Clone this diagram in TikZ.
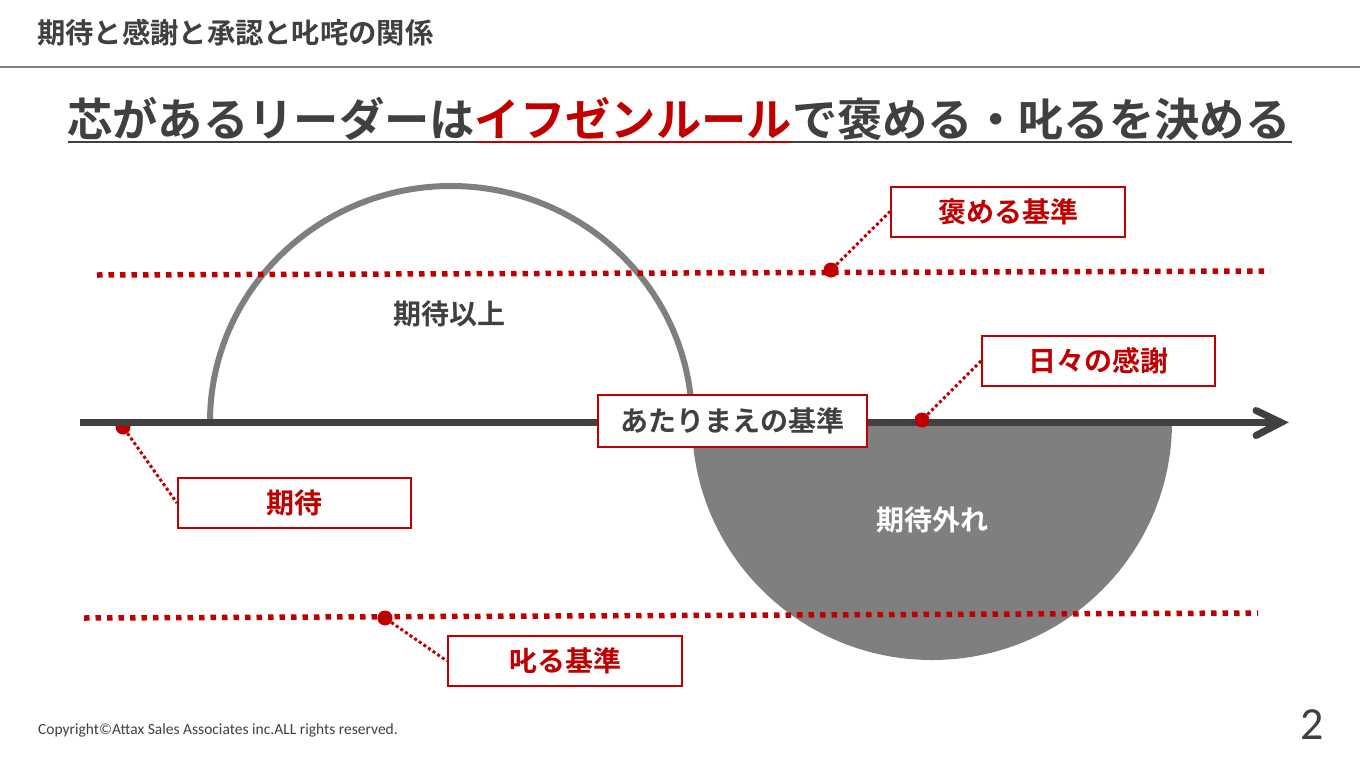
\documentclass[tikz,border=0pt]{standalone}
\usepackage{fontspec}
\newfontfamily\jpfont{Noto Sans CJK JP}[BoldFont={Noto Sans CJK JP Bold}]
\newfontfamily\carfont{Carlito}
\usetikzlibrary{calc}
\definecolor{ared}{HTML}{C00000}
\definecolor{adark}{HTML}{404040}
\definecolor{agray}{HTML}{7F7F7F}
\tikzset{
  lbl/.style={draw=ared, line width=2pt, fill=white, minimum width=234pt, minimum height=50pt,
    inner sep=0pt, font=\jpfont\bfseries\fontsize{28}{30}\selectfont, text=ared},
  leader/.style={draw=ared, line width=3pt, dash pattern=on 3pt off 2.6pt},
  rline/.style={draw=ared, line width=5.5pt, dash pattern=on 5.5pt off 6pt},
  rdot/.style={circle, fill=ared, minimum size=15pt, inner sep=0pt},
  axisline/.style={draw=adark, line width=7pt},
  plain/.style={font=\jpfont\bfseries\fontsize{28}{30}\selectfont, inner sep=0pt}
}
\begin{document}
\begin{tikzpicture}[x=1pt,y=-1pt]
\useasboundingbox (0,0) rectangle (1360,766);
\fill[white] (0,0) rectangle (1360,766);

% title and rule
\node[anchor=base west, inner sep=0pt, text=adark, font=\jpfont\bfseries\fontsize{28.3}{30}\selectfont] (title) at (37,43) {期待と感謝と承認と叱咤の関係};
\coordinate (ruleL) at (0,67);
\coordinate (ruleR) at (1360,67);
\draw[agray, line width=2pt] (ruleL) -- (ruleR);

% heading
\node[anchor=base west, inner sep=0pt, text=adark, font=\jpfont\bfseries\fontsize{45.3}{50}\selectfont] (head) at (67,136)
  {芯があるリーダーは\textcolor{ared}{イフゼンルール}で褒める・叱るを決める};
\coordinate (u1) at (68,142);
\coordinate (u2) at (478,142);
\coordinate (u3) at (790,142);
\coordinate (u4) at (1292,142);
\draw[adark, line width=2pt] (u1) -- (u2);
\draw[ared, line width=2.5pt] (u2) -- (u3);
\draw[adark, line width=2pt] (u3) -- (u4);

% lower filled half circle
\fill[agray] (692,422) arc[start angle=180, end angle=0, x radius=240, y radius=238] -- cycle;
% upper arc
\draw[agray, line width=6pt] (210,422) arc[start angle=180, end angle=360, x radius=241, y radius=236];

% red dotted criterion lines
\coordinate (tL) at (97,275);
\coordinate (tR) at (1270,271);
\coordinate (bL) at (84,618);
\coordinate (bR) at (1258,613);
\draw[rline] (tL) -- (tR);
\draw[rline] (bL) -- (bR);

% dot under axis
\node[rdot] (d3) at (123,427) {};

% axis with arrow
\coordinate (axL) at (80,422.5);
\coordinate (axR) at (1281,422.5);
\draw[axisline] (axL) -- (axR);
\draw[axisline, line cap=round, line join=miter] ($(axR)+(-25,-12)$) -- (axR) -- ($(axR)+(-25,13)$);

% other dots
\node[rdot] (d1) at (831,270) {};
\node[rdot] (d2) at (922,420) {};
\node[rdot] (d4) at (385,618) {};

% labels in boxes
\node[lbl] (homeru) at (1008,211.5) {褒める基準};
\node[lbl, minimum width=233pt] (kansha) at (1098.5,361) {日々の感謝};
\node[lbl, minimum width=269pt, minimum height=52pt, text=adark] (atari) at (732.5,421) {あたりまえの基準};
\node[lbl, minimum width=233pt] (kitai) at (294.5,503) {期待};
\node[lbl] (shikaru) at (565,661) {叱る基準};

% leaders
\draw[leader] (d1) -- (homeru.west);
\draw[leader] (d2) -- (kansha.west);
\draw[leader] (d3) -- (kitai.west);
\draw[leader] (d4) -- (shikaru.west);

% area labels
\node[plain, text=adark] (ijou) at (449,314) {期待以上};
\node[plain, text=white] (hazure) at (932,520) {期待外れ};

% footer
\node[anchor=west, inner sep=0pt, text=adark, font=\carfont\fontsize{15.5}{17}\selectfont] (copy) at (38,730) {Copyright©Attax Sales Associates inc.ALL rights reserved.};
\node[inner sep=0pt, text=adark, font=\carfont\fontsize{46}{50}\selectfont] (page) at (1312,725) {2};
\end{tikzpicture}
\end{document}
